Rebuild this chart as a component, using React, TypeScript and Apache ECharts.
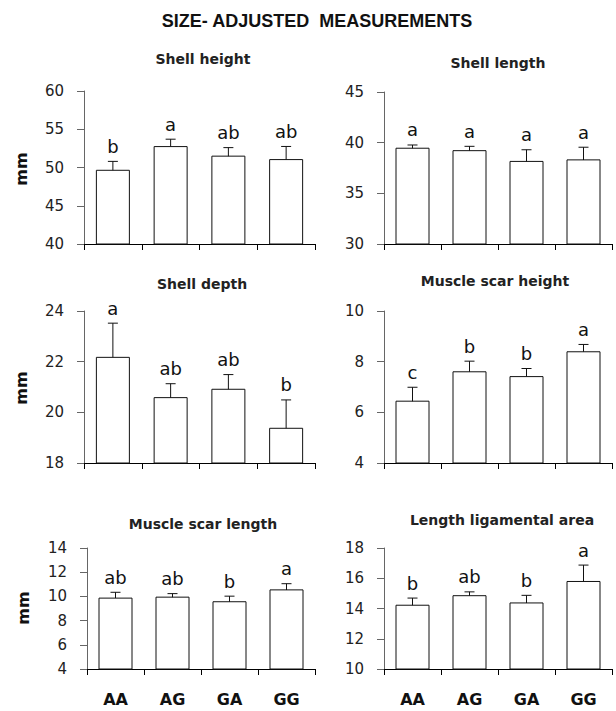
import React, { useEffect, useRef } from "react";
import * as echarts from "echarts";

const categories = ["AA", "AG", "GA", "GG"];

const panelTitles = [
  "Shell height",
  "Shell length",
  "Shell depth",
  "Muscle scar height",
  "Muscle scar length",
  "Length ligamental area",
];

const shellHeight = [49.7, 52.8, 51.55, 51.1];
const shellHeightErr = [1.1, 0.9, 1.05, 1.65];
const shellHeightLetters = ["b", "a", "ab", "ab"];

const shellLength = [39.5, 39.26, 38.2, 38.35];
const shellLengthErr = [0.27, 0.38, 1.1, 1.2];
const shellLengthLetters = ["a", "a", "a", "a"];

const shellDepth = [22.19, 20.6, 20.93, 19.39];
const shellDepthErr = [1.33, 0.53, 0.56, 1.1];
const shellDepthLetters = ["a", "ab", "ab", "b"];

const scarHeight = [6.46, 7.62, 7.43, 8.41];
const scarHeightErr = [0.53, 0.4, 0.3, 0.27];
const scarHeightLetters = ["c", "b", "b", "a"];

const scarLength = [9.9, 9.98, 9.6, 10.58];
const scarLengthErr = [0.44, 0.25, 0.42, 0.47];
const scarLengthLetters = ["ab", "ab", "b", "a"];

const ligArea = [14.25, 14.88, 14.4, 15.82];
const ligAreaErr = [0.44, 0.22, 0.47, 1.05];
const ligAreaLetters = ["b", "ab", "b", "a"];

const yMins = [40, 30, 18, 4, 4, 10];
const yMaxs = [60, 45, 24, 10, 14, 18];
const yIntervals = [5, 5, 2, 2, 2, 2];

const panels = [
  { values: shellHeight, errs: shellHeightErr, letters: shellHeightLetters },
  { values: shellLength, errs: shellLengthErr, letters: shellLengthLetters },
  { values: shellDepth, errs: shellDepthErr, letters: shellDepthLetters },
  { values: scarHeight, errs: scarHeightErr, letters: scarHeightLetters },
  { values: scarLength, errs: scarLengthErr, letters: scarLengthLetters },
  { values: ligArea, errs: ligAreaErr, letters: ligAreaLetters },
];

const mainTitle = "SIZE- ADJUSTED  MEASUREMENTS";
const yName = "mm";

// layout (pixels)
const gridBoxes = [
  { left: 84, top: 91, width: 231, height: 153 },
  { left: 384, top: 92, width: 228, height: 152 },
  { left: 84, top: 311, width: 231, height: 152 },
  { left: 384, top: 311, width: 228, height: 152 },
  { left: 87, top: 548, width: 228, height: 121 },
  { left: 384, top: 548, width: 228, height: 121 },
];
const titlePos = [
  [203, 59],
  [498, 63],
  [202, 284],
  [495, 281],
  [203, 524],
  [502, 520],
];
const mmPos = [
  [21, 169],
  [21, 388],
  [23, 608],
];

const SANS = "'DejaVu Sans', sans-serif";
const ARIAL = "'Liberation Sans', Arial, sans-serif";

export default function App() {
  const ref = useRef<HTMLDivElement>(null);

  useEffect(() => {
    document.body.style.margin = "0";
    if (!ref.current) return;
    const chart = echarts.init(ref.current, undefined, { renderer: "svg" });

    const grid = gridBoxes.map((g) => ({ ...g, containLabel: false }));

    const xAxis = panels.map((_, i) => ({
      type: "category",
      gridIndex: i,
      data: categories,
      boundaryGap: true,
      axisLine: { show: true, onZero: false, lineStyle: { color: "#000", width: 1 } },
      axisTick: { show: true, length: 6, alignWithLabel: false, lineStyle: { color: "#000" } },
      axisLabel: {
        show: i >= 4,
        margin: 22,
        fontFamily: SANS,
        fontWeight: "bold",
        fontSize: 16,
        color: "#111",
      },
      splitLine: { show: false },
    }));

    const yAxis = panels.map((_, i) => ({
      type: "value",
      gridIndex: i,
      min: yMins[i],
      max: yMaxs[i],
      interval: yIntervals[i],
      axisLine: { show: true, lineStyle: { color: "#666", width: 1 } },
      axisTick: { show: true, length: 7, lineStyle: { color: "#666" } },
      axisLabel: {
        margin: 20,
        fontFamily: SANS,
        fontSize: 15,
        color: "#222",
      },
      splitLine: { show: false },
    }));

    const series: any[] = [];
    panels.forEach((p, i) => {
      series.push({
        type: "bar",
        xAxisIndex: i,
        yAxisIndex: i,
        data: p.values,
        barWidth: 34,
        itemStyle: { color: "#fff", borderColor: "#111", borderWidth: 1 },
        silent: true,
      });
      series.push({
        type: "custom",
        xAxisIndex: i,
        yAxisIndex: i,
        clip: false,
        data: p.values.map((v, k) => [k, v - p.errs[k], v + p.errs[k]]),
        renderItem: (params: any, api: any) => {
          const idx = api.value(0);
          const lo = api.coord([idx, api.value(1)]);
          const hi = api.coord([idx, api.value(2)]);
          const x = lo[0];
          const cap = 5;
          const st = { stroke: "#111", lineWidth: 1 };
          return {
            type: "group",
            children: [
              { type: "line", shape: { x1: x, y1: lo[1], x2: x, y2: hi[1] }, style: st },
              { type: "line", shape: { x1: x - cap, y1: lo[1], x2: x + cap, y2: lo[1] }, style: st },
              { type: "line", shape: { x1: x - cap, y1: hi[1], x2: x + cap, y2: hi[1] }, style: st },
              {
                type: "text",
                style: {
                  text: p.letters[params.dataIndex],
                  x: x,
                  y: hi[1] - 6,
                  align: "center",
                  verticalAlign: "bottom",
                  fontFamily: SANS,
                  fontSize: 18,
                  fill: "#111",
                },
              },
            ],
          };
        },
      });
    });

    const graphic: any[] = [
      {
        type: "text",
        x: 317,
        y: 21,
        style: {
          text: mainTitle,
          align: "center",
          verticalAlign: "middle",
          fontFamily: ARIAL,
          fontWeight: "bold",
          fontSize: 18,
          fill: "#111",
        },
      },
    ];
    panelTitles.forEach((t, i) => {
      graphic.push({
        type: "text",
        x: titlePos[i][0],
        y: titlePos[i][1],
        style: {
          text: t,
          align: "center",
          verticalAlign: "middle",
          fontFamily: SANS,
          fontWeight: "bold",
          fontSize: 14,
          fill: "#222",
        },
      });
    });
    mmPos.forEach((pos) => {
      graphic.push({
        type: "text",
        x: pos[0],
        y: pos[1],
        rotation: Math.PI / 2,
        style: {
          text: yName,
          align: "center",
          verticalAlign: "middle",
          fontFamily: SANS,
          fontWeight: "bold",
          fontSize: 16,
          fill: "#111",
        },
      });
    });

    chart.setOption({
      animation: false,
      backgroundColor: "#fff",
      grid,
      xAxis,
      yAxis,
      series,
      graphic,
    });

    return () => chart.dispose();
  }, []);

  return <div ref={ref} style={{ width: 616, height: 711 }} />;
}
